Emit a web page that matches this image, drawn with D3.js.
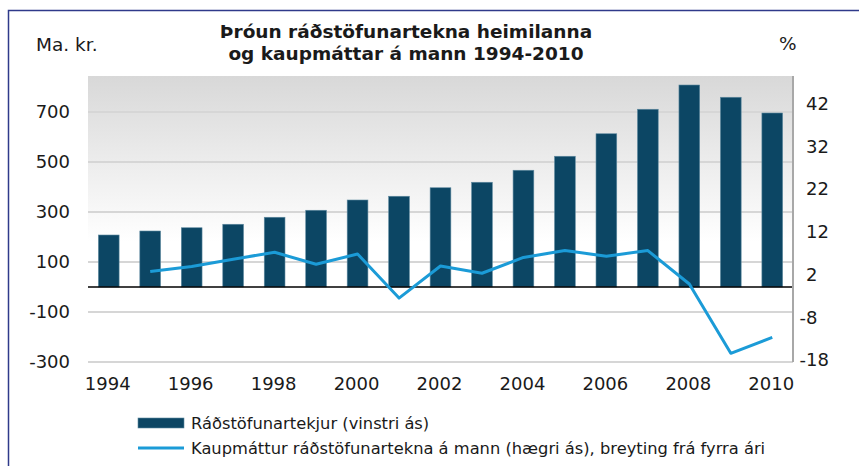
<!DOCTYPE html>
<html>
<head>
<meta charset="utf-8">
<script src="https://cdn.jsdelivr.net/npm/d3@7"></script>
<style>
  body { margin: 0; background: #fff; }
  svg text { font-family: "DejaVu Sans", Verdana, sans-serif; fill: #1a1a1a; }
</style>
</head>
<body>
<div id="chart"></div>
<script>
var years = d3.range(1994, 2011);
var income = [208, 224, 237, 251, 279, 307, 348, 363, 397, 419, 467, 523, 613, 711, 808, 759, 696];
var purchasing = [null, 2.9, 4.1, 5.8, 7.4, 4.6, 7.0, -3.3, 4.2, 2.5, 6.2, 7.8, 6.5, 7.8, 0.0, -16.2, -12.5];
var leftTicks = [-300, -100, 100, 300, 500, 700];
var rightTicks = [-18, -8, 2, 12, 22, 32, 42];
var xLabels = [1994, 1996, 1998, 2000, 2002, 2004, 2006, 2008, 2010];
var titleLines = ["Þróun ráðstöfunartekna heimilanna", "og kaupmáttar á mann 1994-2010"];
var legendItems = ["Ráðstöfunartekjur (vinstri ás)", "Kaupmáttur ráðstöfunartekna á mann (hægri ás), breyting frá fyrra ári"];

var width = 859, height = 466;
var plotL = 88, plotR = 793, plotT = 76, plotB = 362;
var barColor = "#0c4664", lineColor = "#1b9bd7";
var tickFont = "18px";

var svg = d3.select("#chart").append("svg")
    .attr("width", width)
    .attr("height", height);

// outer frame (cut off at right and bottom)
svg.append("rect")
    .attr("x", 8.5).attr("y", 10.5)
    .attr("width", 900).attr("height", 500)
    .attr("fill", "none")
    .attr("stroke", "#2f3a8a")
    .attr("stroke-width", 1.5);

var x = d3.scaleBand().domain(years).range([plotL, plotR]).paddingInner(0.5).paddingOuter(0.25);
var yL = d3.scaleLinear().domain([-300, 844]).range([plotB, plotT]);
var yR = d3.scaleLinear().domain([-18, 48.6]).range([361, plotT]);

var defs = svg.append("defs");
var grad = defs.append("linearGradient")
    .attr("id", "bg").attr("x1", 0).attr("y1", 0).attr("x2", 0).attr("y2", 1);
grad.append("stop").attr("offset", "0%").attr("stop-color", "#d8d8d8");
grad.append("stop").attr("offset", "58%").attr("stop-color", "#ffffff");
grad.append("stop").attr("offset", "100%").attr("stop-color", "#ffffff");

svg.append("rect")
    .attr("x", plotL).attr("y", plotT)
    .attr("width", plotR - plotL).attr("height", plotB - plotT)
    .attr("fill", "url(#bg)");

// gridlines
svg.selectAll(".grid")
    .data(leftTicks)
    .enter()
    .append("line")
    .attr("class", "grid")
    .attr("x1", plotL).attr("x2", plotR)
    .attr("y1", function(d){ return yL(d); })
    .attr("y2", function(d){ return yL(d); })
    .attr("stroke", "#d6d6d6")
    .attr("stroke-width", 2);

// bars
svg.selectAll(".bar")
    .data(income)
    .enter()
    .append("rect")
    .attr("class", "bar")
    .attr("x", function(d, i){ return x(years[i]); })
    .attr("width", x.bandwidth())
    .attr("y", function(d){ return yL(d); })
    .attr("height", function(d){ return yL(0) - yL(d); })
    .attr("fill", barColor)
    .attr("stroke", "#5f8aa0")
    .attr("stroke-width", 0.6);

// zero line
svg.append("line")
    .attr("x1", plotL).attr("x2", plotR)
    .attr("y1", yL(0)).attr("y2", yL(0))
    .attr("stroke", "#000")
    .attr("stroke-width", 1.5);

// right axis line
svg.append("line")
    .attr("x1", plotR).attr("x2", plotR)
    .attr("y1", plotT).attr("y2", plotB)
    .attr("stroke", "#a8a8a8")
    .attr("stroke-width", 2);

// purchasing power line
var line = d3.line()
    .defined(function(d){ return d != null; })
    .x(function(d, i){ return x(years[i]) + x.bandwidth() / 2; })
    .y(function(d){ return yR(d); });

svg.append("path")
    .datum(purchasing)
    .attr("d", line)
    .attr("fill", "none")
    .attr("stroke", lineColor)
    .attr("stroke-width", 3)
    .attr("stroke-linejoin", "round");

// left tick labels
svg.selectAll(".ltick")
    .data(leftTicks)
    .enter()
    .append("text")
    .attr("x", 70)
    .attr("y", function(d){ return yL(d); })
    .attr("dy", "0.36em")
    .attr("text-anchor", "end")
    .style("font-size", tickFont)
    .text(function(d){ return d; });

// right tick labels, digits aligned with minus hanging left
var rlab = svg.selectAll(".rtick")
    .data(rightTicks)
    .enter()
    .append("text")
    .attr("x", 806)
    .attr("y", function(d){ return yR(d) - 1; })
    .attr("dy", "0.36em")
    .style("font-size", tickFont)
    .text(function(d){ return d; });
var probe = svg.append("text").style("font-size", tickFont).text("-");
var minusW = probe.node().getComputedTextLength();
probe.remove();
rlab.attr("x", function(d){ return d < 0 ? 806 - minusW : 806; });

// x labels
svg.selectAll(".xtick")
    .data(xLabels)
    .enter()
    .append("text")
    .attr("x", function(d){ return x(d) + x.bandwidth() / 2 - 1; })
    .attr("y", 384)
    .attr("dy", "0.36em")
    .attr("text-anchor", "middle")
    .style("font-size", tickFont)
    .text(function(d){ return d; });

// axis titles
svg.append("text").attr("x", 36).attr("y", 51).style("font-size", "18.5px").text("Ma. kr.");
svg.append("text").attr("x", 779).attr("y", 50).style("font-size", "18.5px").text("%");

// title
svg.selectAll(".title")
    .data(titleLines)
    .enter()
    .append("text")
    .attr("x", 406)
    .attr("y", function(d, i){ return 37.5 + i * 22; })
    .attr("text-anchor", "middle")
    .style("font-size", "18.5px")
    .style("font-weight", "bold")
    .text(function(d){ return d; });

// legend
var lg = svg.append("g").attr("transform", "translate(138,0)");
lg.append("rect")
    .attr("x", 0).attr("y", 418)
    .attr("width", 46).attr("height", 10)
    .attr("fill", barColor)
    .attr("stroke", "#5f8aa0")
    .attr("stroke-width", 0.6);
lg.append("line")
    .attr("x1", 0).attr("x2", 46)
    .attr("y1", 448).attr("y2", 448)
    .attr("stroke", lineColor)
    .attr("stroke-width", 3);
lg.selectAll(".ltxt")
    .data(legendItems)
    .enter()
    .append("text")
    .attr("x", 53)
    .attr("y", function(d, i){ return 423 + i * 25; })
    .attr("dy", "0.36em")
    .style("font-size", "16.3px")
    .text(function(d){ return d; });
</script>
</body>
</html>
